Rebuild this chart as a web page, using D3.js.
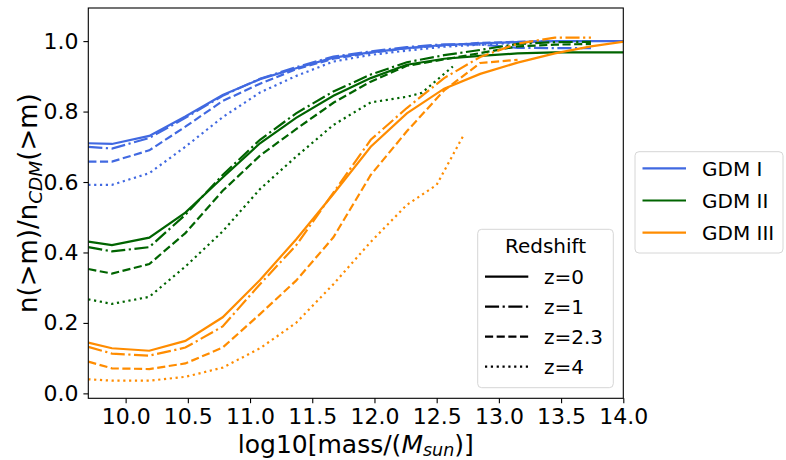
<!DOCTYPE html>
<html>
<head>
<meta charset="utf-8">
<script src="https://cdn.jsdelivr.net/npm/d3@7"></script>
<style>
  body { margin: 0; background: #fff; }
  svg { font-family: "DejaVu Sans", sans-serif; }
</style>
</head>
<body>
<div id="chart"></div>
<script>
// mass bins (log10 M/Msun)
const massGrid = [9.7, 9.89, 10.19, 10.48, 10.78, 11.08, 11.37, 11.67, 11.97, 12.26, 12.56, 12.85, 13.15, 13.45, 13.74, 14.04];
const massGridZ4green = [9.7, 9.89, 10.19, 10.48, 10.78, 11.08, 11.37, 11.67, 11.97, 12.26, 12.38, 12.63];
const massGridZ4orange = [9.7, 9.89, 10.19, 10.48, 10.78, 11.08, 11.37, 11.67, 11.97, 12.26, 12.50, 12.71];

// GDM I
const gdm1_z0 = [0.710, 0.708, 0.731, 0.786, 0.847, 0.892, 0.923, 0.953, 0.968, 0.980, 0.989, 0.994, 0.997, 1.000, 1.000, 1.000];
const gdm1_z1 = [0.700, 0.695, 0.725, 0.782, 0.845, 0.893, 0.926, 0.956, 0.971, 0.983, 0.991, 0.990, 0.981, 0.980, 0.980, null];
const gdm1_z23 = [0.658, 0.658, 0.690, 0.757, 0.830, 0.879, 0.920, 0.950, 0.967, 0.980, 0.988, 0.995, 0.998, 1.000, 1.000, null];
const gdm1_z4 = [0.592, 0.592, 0.625, 0.700, 0.784, 0.854, 0.901, 0.942, 0.961, 0.973, 0.984, 0.990, 0.995, 1.000, 1.000, null];
// GDM II
const gdm2_z0 = [0.431, 0.421, 0.442, 0.513, 0.613, 0.710, 0.782, 0.845, 0.895, 0.933, 0.950, 0.958, 0.965, 0.968, 0.968, 0.968];
const gdm2_z1 = [0.415, 0.403, 0.415, 0.507, 0.620, 0.720, 0.795, 0.857, 0.905, 0.940, 0.960, 0.975, 0.992, 0.997, 0.998, null];
const gdm2_z23 = [0.353, 0.340, 0.367, 0.455, 0.575, 0.675, 0.750, 0.825, 0.885, 0.930, 0.948, 0.966, 0.985, 0.990, 0.992, null];
const gdm2_z4 = [0.267, 0.254, 0.274, 0.360, 0.460, 0.580, 0.672, 0.762, 0.826, 0.842, 0.853, 0.928];
// GDM III
const gdm3_z0 = [0.144, 0.128, 0.121, 0.149, 0.216, 0.322, 0.437, 0.566, 0.700, 0.795, 0.865, 0.907, 0.939, 0.965, 0.985, 1.000];
const gdm3_z1 = [0.132, 0.113, 0.107, 0.130, 0.190, 0.310, 0.420, 0.570, 0.720, 0.810, 0.895, 0.955, 0.993, 1.010, 1.010, null];
const gdm3_z23 = [0.090, 0.071, 0.069, 0.085, 0.130, 0.225, 0.320, 0.443, 0.620, 0.744, 0.860, 0.938, 0.947, null, null, null];
const gdm3_z4 = [0.040, 0.036, 0.036, 0.047, 0.073, 0.128, 0.200, 0.310, 0.430, 0.535, 0.592, 0.729];

const models = ["GDM I", "GDM II", "GDM III"];
const modelColors = ["#4169E1", "#006400", "#FF8C00"];
const redshifts = ["z=0", "z=1", "z=2.3", "z=4"];
const xTicks = [10.0, 10.5, 11.0, 11.5, 12.0, 12.5, 13.0, 13.5, 14.0];
const yTicks = [0.0, 0.2, 0.4, 0.6, 0.8, 1.0];

const lw = 2.2;
const dashes = [null, `${6.4*lw},${1.6*lw},${1*lw},${1.6*lw}`, `${3.7*lw},${1.6*lw}`, `${1*lw},${1.65*lw}`];

const series = [
  { m: 0, z: 0, x: massGrid, y: gdm1_z0 },
  { m: 0, z: 1, x: massGrid, y: gdm1_z1 },
  { m: 0, z: 2, x: massGrid, y: gdm1_z23 },
  { m: 0, z: 3, x: massGrid, y: gdm1_z4 },
  { m: 1, z: 0, x: massGrid, y: gdm2_z0 },
  { m: 1, z: 1, x: massGrid, y: gdm2_z1 },
  { m: 1, z: 2, x: massGrid, y: gdm2_z23 },
  { m: 1, z: 3, x: massGridZ4green, y: gdm2_z4 },
  { m: 2, z: 0, x: massGrid, y: gdm3_z0 },
  { m: 2, z: 1, x: massGrid, y: gdm3_z1 },
  { m: 2, z: 2, x: massGrid, y: gdm3_z23 },
  { m: 2, z: 3, x: massGridZ4orange, y: gdm3_z4 },
];

const width = 786, height = 460;
const plot = { left: 88.3, right: 623.3, top: 8, bottom: 398.3 };

const svg = d3.select("#chart").append("svg")
  .attr("width", width).attr("height", height);

const x = d3.scaleLinear().domain([9.7, 14.0]).range([plot.left, plot.right]);
const y = d3.scaleLinear().domain([-0.014, 1.094]).range([plot.bottom, plot.top]);

svg.append("clipPath").attr("id", "clip")
  .append("rect")
  .attr("x", plot.left).attr("y", plot.top)
  .attr("width", plot.right - plot.left).attr("height", plot.bottom - plot.top);

// lines
const line = d3.line()
  .defined(d => d[1] != null)
  .x(d => x(d[0]))
  .y(d => y(d[1]));

const g = svg.append("g").attr("clip-path", "url(#clip)");
series.forEach(s => {
  const pts = s.x.map((v, i) => [v, s.y[i]]).filter(p => p[1] !== undefined);
  g.append("path")
    .datum(pts)
    .attr("d", line)
    .attr("fill", "none")
    .attr("stroke", modelColors[s.m])
    .attr("stroke-width", lw)
    .attr("stroke-dasharray", dashes[s.z]);
});

// axes
const xAxis = svg.append("g")
  .attr("transform", `translate(0,${plot.bottom})`)
  .call(d3.axisBottom(x).tickValues(xTicks).tickFormat(d3.format(".1f")).tickSize(4.9).tickPadding(4.9));
const yAxis = svg.append("g")
  .attr("transform", `translate(${plot.left},0)`)
  .call(d3.axisLeft(y).tickValues(yTicks).tickFormat(d3.format(".1f")).tickSize(4.9).tickPadding(4.9));

[xAxis, yAxis].forEach(a => {
  a.select(".domain").remove();
  a.selectAll(".tick line").attr("stroke", "#000").attr("stroke-width", 1.1);
  a.selectAll(".tick text").attr("fill", "#000").style("font-size", "22px")
    .style("font-family", "DejaVu Sans, sans-serif");
});

// frame
svg.append("rect")
  .attr("x", plot.left).attr("y", plot.top)
  .attr("width", plot.right - plot.left).attr("height", plot.bottom - plot.top)
  .attr("fill", "none").attr("stroke", "#000").attr("stroke-width", 1.1);

// axis labels
const xl = svg.append("text")
  .attr("x", (plot.left + plot.right) / 2).attr("y", 452.5)
  .attr("text-anchor", "middle").style("font-size", "25px");
xl.append("tspan").text("log10[mass/(");
xl.append("tspan").attr("font-style", "italic").text("M");
xl.append("tspan").attr("font-style", "italic").attr("dy", 3).style("font-size", "17.5px").text("sun");
xl.append("tspan").attr("dy", -3).text(")]");

const yl = svg.append("text")
  .attr("transform", `translate(37,${(plot.top + plot.bottom) / 2}) rotate(-90)`)
  .attr("text-anchor", "middle").style("font-size", "26px");
yl.append("tspan").text("n(>m)/n");
yl.append("tspan").attr("font-style", "italic").attr("dy", 5).style("font-size", "18.5px").text("CDM");
yl.append("tspan").attr("dy", -5).text("(>m)");

// model legend (outside axes)
const leg1 = svg.append("g");
leg1.append("rect")
  .attr("x", 635).attr("y", 151.7).attr("width", 148).attr("height", 101.3)
  .attr("rx", 4).attr("fill", "#fff").attr("fill-opacity", 0.8)
  .attr("stroke", "#d6d6d6").attr("stroke-width", 1);
models.forEach((m, i) => {
  const cy = 168.3 + i * 32.2;
  leg1.append("line").attr("x1", 642.5).attr("x2", 686).attr("y1", cy).attr("y2", cy)
    .attr("stroke", modelColors[i]).attr("stroke-width", lw);
  leg1.append("text").attr("x", 702).attr("y", cy).attr("dy", "0.36em")
    .style("font-size", "20px").text(m);
});

// redshift legend (inside axes)
const leg2 = svg.append("g");
leg2.append("rect")
  .attr("x", 477.7).attr("y", 229.3).attr("width", 135.6).attr("height", 158.4)
  .attr("rx", 4).attr("fill", "#fff").attr("fill-opacity", 0.8)
  .attr("stroke", "#d6d6d6").attr("stroke-width", 1);
leg2.append("text").attr("x", 545.5).attr("y", 246).attr("dy", "0.36em")
  .attr("text-anchor", "middle").style("font-size", "20px").text("Redshift");
redshifts.forEach((z, i) => {
  const cy = 276.7 + i * 30;
  leg2.append("line").attr("x1", 485).attr("x2", 528.3).attr("y1", cy).attr("y2", cy)
    .attr("stroke", "#000").attr("stroke-width", lw)
    .attr("stroke-dasharray", dashes[i]);
  leg2.append("text").attr("x", 544).attr("y", cy).attr("dy", "0.36em")
    .style("font-size", "20px").text(z);
});
</script>
</body>
</html>
